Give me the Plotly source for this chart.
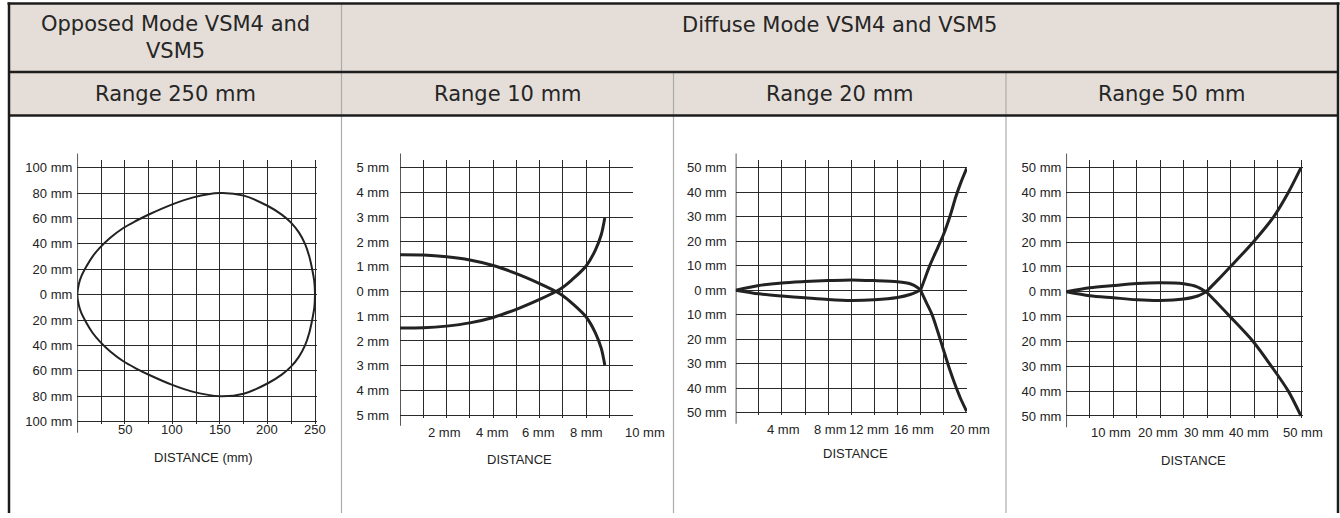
import plotly.graph_objects as go

W, H = 1340, 518

# ---------------- text ----------------
header_opposed = "Opposed Mode VSM4 and<br>VSM5"
header_diffuse = "Diffuse Mode VSM4 and VSM5"
range_titles = ["Range 250 mm", "Range 10 mm", "Range 20 mm", "Range 50 mm"]
x_titles = ["DISTANCE (mm)", "DISTANCE", "DISTANCE", "DISTANCE"]

# ---------------- chart 1: opposed, 250 mm ----------------
c1_x = [0, 1.5, 4, 9.8, 16, 23.8, 35, 48.4, 62, 76.4, 99.2, 122, 150,
        175, 200, 215, 225, 233, 239.5, 244, 247, 249.3, 250]
c1_upper = [0, 8, 14, 22.5, 30, 37, 45, 52.5, 58.2, 63.5, 70.9, 76.6, 80,
            78, 70, 63, 56.5, 49, 40, 30, 20, 10, 0]
c1_lower = [0, -8, -14, -22.5, -30, -37, -45, -52.5, -58.2, -63.5, -70.9, -76.6, -80,
            -78, -70, -63, -56.5, -49, -40, -30, -20, -10, 0]
c1_ytick_vals = [100, 80, 60, 40, 20, 0, -20, -40, -60, -80, -100]
c1_ytick_text = ["100 mm", "80 mm", "60 mm", "40 mm", "20 mm", "0 mm",
                 "20 mm", "40 mm", "60 mm", "80 mm", "100 mm"]
c1_xtick_vals = [50, 100, 150, 200, 250]
c1_xtick_text = ["50", "100", "150", "200", "250"]

# ---------------- chart 2: diffuse, 10 mm ----------------
c2_x = [0, 1, 2, 3, 4, 5, 6, 6.7, 7, 7.4, 8, 8.4, 8.65, 8.8]
c2_a = [1.48, 1.47, 1.4, 1.27, 1.05, 0.72, 0.32, 0, -0.17, -0.48, -1.03, -1.68, -2.3, -2.97]
c2_b = [-1.48, -1.47, -1.4, -1.27, -1.05, -0.72, -0.32, 0, 0.17, 0.48, 1.03, 1.68, 2.3, 2.97]
c2_ytick_vals = [5, 4, 3, 2, 1, 0, -1, -2, -3, -4, -5]
c2_ytick_text = ["5 mm", "4 mm", "3 mm", "2 mm", "1 mm", "0 mm",
                 "1 mm", "2 mm", "3 mm", "4 mm", "5 mm"]
c2_xtick_vals = [2, 4, 6, 8, 10]
c2_xtick_text = ["2 mm", "4 mm", "6 mm", "8 mm", "10 mm"]

# ---------------- chart 3: diffuse, 20 mm ----------------
c3_lobe_x = [0, 2, 4, 6, 8, 10, 12, 14, 15.1, 15.8, 16]
c3_lobe_up = [0, 1.9, 2.96, 3.5, 3.9, 4.2, 3.9, 3.4, 2.6, 0.9, 0]
c3_lobe_lo = [0, -1.5, -2.4, -3.1, -3.8, -4.2, -3.9, -2.96, -1.75, -0.4, 0]
c3_up_x = [16, 16.4, 16.8, 17.5, 18, 18.6, 19.05, 19.5, 20]
c3_up_y = [0, 5, 10, 17.4, 22.8, 30.9, 38, 44, 49.7]
c3_lo_x = [16, 16.5, 17, 17.5, 18, 18.5, 18.95, 19.45, 20]
c3_lo_y = [0, -5, -10, -17, -24.5, -32, -38, -44, -49.5]
c3_ytick_vals = [50, 40, 30, 20, 10, 0, -10, -20, -30, -40, -50]
c3_ytick_text = ["50 mm", "40 mm", "30 mm", "20 mm", "10 mm", "0 mm",
                 "10 mm", "20 mm", "30 mm", "40 mm", "50 mm"]
c3_xtick_vals = [4, 8, 12, 16, 20]
c3_xtick_text = ["4 mm", "8 mm", "12 mm", "16 mm", "20 mm"]

# ---------------- chart 4: diffuse, 50 mm ----------------
c4_lobe_x = [0, 5, 10, 15, 20, 25, 28, 29.8]
c4_lobe_up = [0, 1.6, 2.5, 3.3, 3.6, 3.2, 1.9, 0]
c4_lobe_lo = [0, -1.6, -2.4, -3.2, -3.5, -2.9, -1.7, 0]
c4_up_x = [29.8, 32.4, 34.9, 39.8, 44.1, 47.3, 50]
c4_up_y = [0, 5, 10, 20, 30, 40, 50]
c4_lo_x = [29.8, 32.4, 34.9, 39.8, 43.7, 47.3, 50]
c4_lo_y = [0, -5, -10, -20, -30, -40, -50]
c4_ytick_vals = c3_ytick_vals
c4_ytick_text = c3_ytick_text
c4_xtick_vals = [10, 20, 30, 40, 50]
c4_xtick_text = ["10 mm", "20 mm", "30 mm", "40 mm", "50 mm"]

# ---------------- styling / layout constants ----------------
INK = "#222222"
GRID = "#2a2a2a"
HEAD_FILL = "#E5DED8"
BORDER = "#1c1c1c"
DIVIDER = "#ababab"
HEAD_FONT = dict(family="DejaVu Sans", size=21, color="#262626")
TICK_FONT = dict(family="Liberation Sans, Arial", size=13, color=INK)


def px_x(p):
    return p / W


def px_y(p):
    return 1 - p / H


# per chart geometry (pixels): x of data 0, x of grid max, y of top grid, y of bottom grid
charts = [
    dict(x0=77.3, x1=315.0, gxmax=250, gxstep=25, yt=169.3, yb=425.7, gymax=100,
         ytv=c1_ytick_vals, ytt=c1_ytick_text, xtv=c1_xtick_vals, xtt=c1_xtick_text,
         xshift=[0, 0, 0, 0, 0],
         xlab_y=433.5, title_xy=(203, 462), yaxis_line=(155, 437), standoff=4, xext=1.8),
    dict(x0=400.0, x1=632.7, gxmax=10, gxstep=1, yt=169.3, yb=419.3, gymax=5,
         ytv=c2_ytick_vals, ytt=c2_ytick_text, xtv=c2_xtick_vals, xtt=c2_xtick_text,
         xshift=[-2, -1, -1, 0, 12],
         xlab_y=436.7, title_xy=(519, 463.5), yaxis_line=(155, 430), standoff=10, xext=0.3),
    dict(x0=735.7, x1=966.7, gxmax=20, gxstep=2, yt=169.3, yb=416.7, gymax=50,
         ytv=c3_ytick_vals, ytt=c3_ytick_text, xtv=c3_xtick_vals, xtt=c3_xtick_text,
         xshift=[2, 2, -5, -7, 3],
         xlab_y=433.5, title_xy=(855, 458), yaxis_line=(155, 428), standoff=8, xext=0.3),
    dict(x0=1066.3, x1=1301.0, gxmax=50, gxstep=5, yt=169.3, yb=420.0, gymax=50,
         ytv=c4_ytick_vals, ytt=c4_ytick_text, xtv=c4_xtick_vals, xtt=c4_xtick_text,
         xshift=[-2, -2, -3, -5, 2],
         xlab_y=436.7, title_xy=(1193, 465), yaxis_line=(155, 431.5), standoff=4, xext=1.5),
]

fig = go.Figure()

layout = dict(
    width=W, height=H, margin=dict(l=0, r=0, t=0, b=0),
    paper_bgcolor="white", plot_bgcolor="rgba(0,0,0,0)",
    showlegend=False, shapes=[], annotations=[],
)

for i, c in enumerate(charts, start=1):
    sx = (c["x1"] - c["x0"]) / c["gxmax"]
    sy = (c["yb"] - c["yt"]) / (2 * c["gymax"])
    x_hi = c["gxmax"] + c["xext"] / sx
    top_ext = 7.7 / sy
    bot_ext = 2.5 / sy
    y_lo = -c["gymax"] - bot_ext
    y_hi = c["gymax"] + top_ext
    dom_x = [px_x(c["x0"]), px_x(c["x0"] + x_hi * sx)]
    dom_y = [px_y(c["yb"] + 2.5), px_y(c["yt"] - 7.7)]
    xa = "xaxis" if i == 1 else f"xaxis{i}"
    ya = "yaxis" if i == 1 else f"yaxis{i}"
    xr = "x" if i == 1 else f"x{i}"
    yr = "y" if i == 1 else f"y{i}"
    ngx = int(round(c["gxmax"] / c["gxstep"]))
    layout[xa] = dict(
        domain=dom_x, range=[0, x_hi], anchor=yr,
        tickmode="array", tickvals=[k * c["gxstep"] for k in range(ngx + 1)],
        showticklabels=False, ticks="", showgrid=True, gridcolor=GRID, gridwidth=1,
        zeroline=False, showline=False, fixedrange=True,
    )
    layout[ya] = dict(
        domain=dom_y, range=[y_lo, y_hi], anchor=xr,
        tickmode="array", tickvals=c["ytv"], ticktext=c["ytt"], ticks="",
        tickfont=TICK_FONT, ticklabelstandoff=c["standoff"],
        showgrid=True, gridcolor=GRID, gridwidth=1,
        zeroline=True, zerolinecolor=GRID, zerolinewidth=1,
        showline=False, fixedrange=True,
    )
    # y axis line, extending beyond the grid
    layout["shapes"].append(dict(
        type="line", xref=xr, yref="paper", x0=0, x1=0,
        y0=px_y(c["yaxis_line"][1]), y1=px_y(c["yaxis_line"][0]),
        line=dict(color=INK, width=1.5), layer="above",
    ))
    # x tick labels
    for lab, val, sh in zip(c["xtt"], c["xtv"], c["xshift"]):
        layout["annotations"].append(dict(
            text=lab, x=val, xref=xr, y=px_y(c["xlab_y"]), yref="paper", xshift=sh,
            showarrow=False, xanchor="center", yanchor="middle", font=TICK_FONT,
        ))
    layout["annotations"].append(dict(
        text=x_titles[i - 1], x=px_x(c["title_xy"][0]), y=px_y(c["title_xy"][1]),
        xref="paper", yref="paper", showarrow=False, xanchor="center",
        yanchor="middle", font=TICK_FONT,
    ))

line_thin = dict(color=INK, width=2)
line_thick = dict(color=INK, width=3)

# chart 1 closed loop
fig.add_trace(go.Scatter(
    x=c1_x + c1_x[::-1], y=c1_upper + c1_lower[::-1], mode="lines",
    line=dict(**line_thin, shape="spline", smoothing=1.0), xaxis="x", yaxis="y",
    hoverinfo="skip"))
# chart 2
for ys in (c2_a, c2_b):
    fig.add_trace(go.Scatter(x=c2_x, y=ys, mode="lines",
                             line=dict(**line_thick, shape="spline", smoothing=0.8),
                             xaxis="x2", yaxis="y2", hoverinfo="skip"))
# chart 3
for xs, ys in ((c3_lobe_x, c3_lobe_up), (c3_lobe_x, c3_lobe_lo),
               (c3_up_x, c3_up_y), (c3_lo_x, c3_lo_y)):
    fig.add_trace(go.Scatter(x=xs, y=ys, mode="lines",
                             line=dict(**line_thick, shape="spline", smoothing=0.8),
                             xaxis="x3", yaxis="y3", hoverinfo="skip"))
# chart 4
for xs, ys in ((c4_lobe_x, c4_lobe_up), (c4_lobe_x, c4_lobe_lo),
               (c4_up_x, c4_up_y), (c4_lo_x, c4_lo_y)):
    fig.add_trace(go.Scatter(x=xs, y=ys, mode="lines",
                             line=dict(**line_thick, shape="spline", smoothing=0.8),
                             xaxis="x4", yaxis="y4", hoverinfo="skip"))

# ---------------- table frame ----------------
L, R, T = 9.0, 1338.0, 3.5
ROW1, ROW2 = 72.7, 116.5
COL = [341.5, 673.5, 1006.0]


def rect(x0, y0, x1, y1, fill):
    return dict(type="rect", xref="paper", yref="paper", x0=px_x(x0), x1=px_x(x1),
                y0=px_y(y1), y1=px_y(y0), fillcolor=fill, line=dict(width=0), layer="below")


def hline(y, x0, x1, color, width):
    return dict(type="line", xref="paper", yref="paper", x0=px_x(x0), x1=px_x(x1),
                y0=px_y(y), y1=px_y(y), line=dict(color=color, width=width), layer="above")


def vline(x, y0, y1, color, width):
    return dict(type="line", xref="paper", yref="paper", x0=px_x(x), x1=px_x(x),
                y0=px_y(y1), y1=px_y(y0), line=dict(color=color, width=width), layer="above")


layout["shapes"] += [
    rect(L, T, R, ROW2, HEAD_FILL),
    vline(COL[0], T, H, DIVIDER, 1.2),
    vline(COL[1], ROW1, H, DIVIDER, 1.2),
    vline(COL[2], ROW1, H, DIVIDER, 1.2),
    hline(T, L - 1.5, R + 1.5, BORDER, 2.5),
    hline(ROW1, L, R, BORDER, 2.5),
    hline(ROW2, L, R, BORDER, 2.5),
    vline(L, T - 1, H, BORDER, 2.5),
    vline(R, T - 1, H, BORDER, 2.5),
]

# header texts
layout["annotations"] += [
    dict(text=header_opposed, x=px_x((L + COL[0]) / 2), y=px_y(38), xref="paper",
         yref="paper", showarrow=False, xanchor="center", yanchor="middle",
         font=HEAD_FONT, align="center"),
    dict(text=header_diffuse, x=px_x((COL[0] + R) / 2), y=px_y(25), xref="paper",
         yref="paper", showarrow=False, xanchor="center", yanchor="middle",
         font=HEAD_FONT),
]
centers = [(L + COL[0]) / 2, (COL[0] + COL[1]) / 2, (COL[1] + COL[2]) / 2, (COL[2] + R) / 2]
for t, cx in zip(range_titles, centers):
    layout["annotations"].append(dict(
        text=t, x=px_x(cx), y=px_y(95), xref="paper", yref="paper", showarrow=False,
        xanchor="center", yanchor="middle", font=HEAD_FONT))

fig.update_layout(**layout)

fig.write_html("out.html", config={"displayModeBar": False},
               post_script="document.body.style.margin='0';document.body.style.overflow='hidden';")
